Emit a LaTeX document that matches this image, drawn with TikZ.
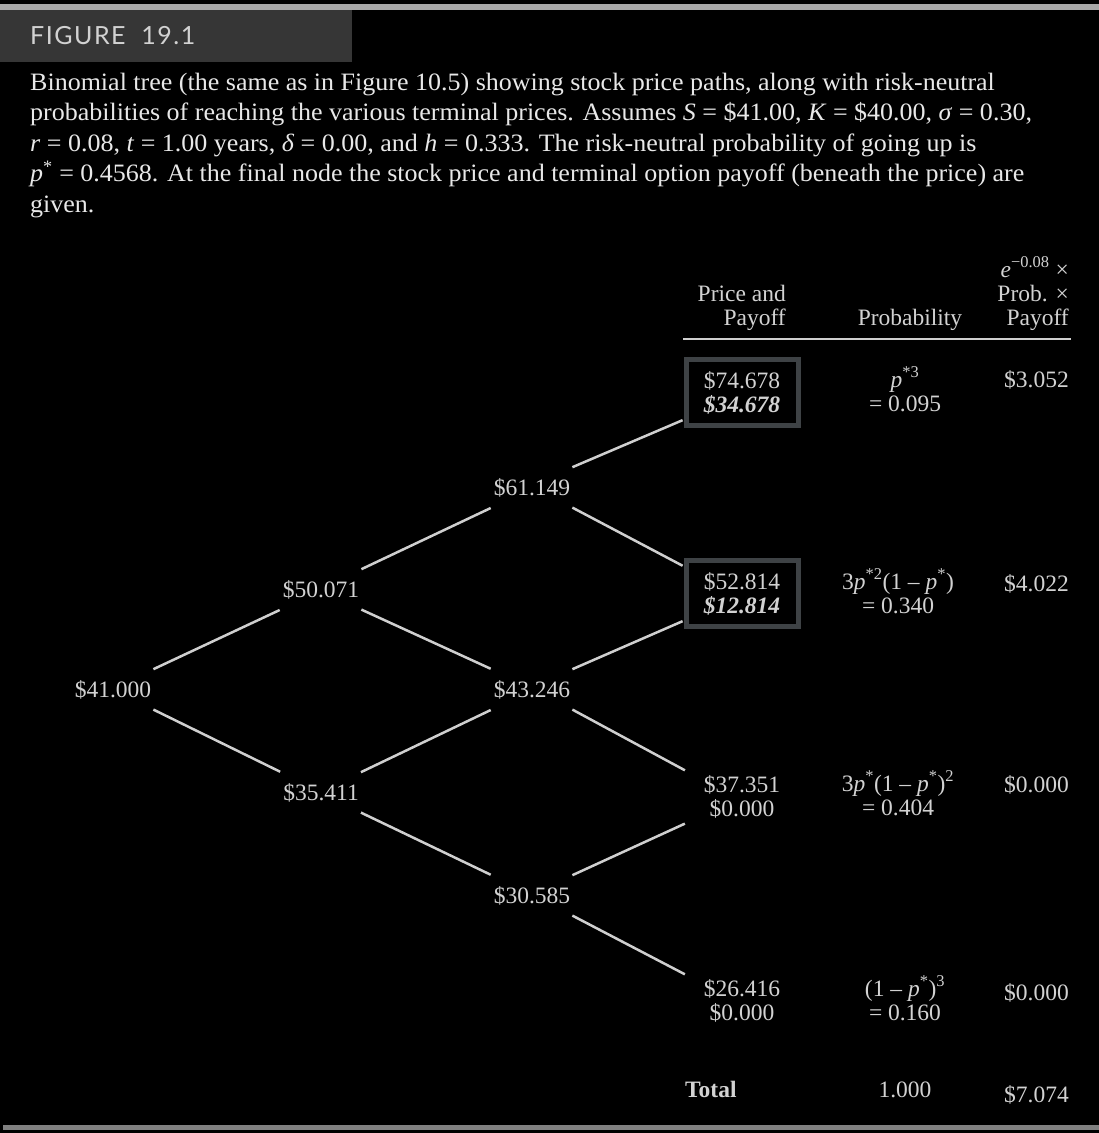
\documentclass[tikz,border=0pt]{standalone}
\usepackage{fontspec}
\setmainfont{Liberation Serif}
\newfontfamily\figfont[LetterSpace=6]{Lato}
\newfontfamily\capfont[FakeStretch=1.04]{Liberation Serif}
\usetikzlibrary{calc}
\definecolor{txtgray}{HTML}{D2D2D2}
\definecolor{capgray}{HTML}{E8E8E8}
\definecolor{edgegray}{HTML}{CFCFCF}
\definecolor{boxgray}{HTML}{3E4245}
\definecolor{bandgray}{HTML}{363636}
\definecolor{topgray}{HTML}{A8A8A8}
\definecolor{botgray}{HTML}{808080}
\def\tabfont{\fontsize{23.5}{24}\selectfont}

\begin{document}
\begin{tikzpicture}[x=1pt, y=-1pt,
	price/.style={text=txtgray, font=\tabfont, inner xsep=2pt, inner ysep=0pt, minimum height=40pt},
	final/.style={text=txtgray, font=\tabfont, align=center, inner sep=0pt, minimum width=112pt, minimum height=66pt},
	boxed/.style={draw=boxgray, line width=5pt},
	cell/.style={text=txtgray, font=\tabfont, inner sep=0pt},
	branch/.style={draw=edgegray, line width=2.5pt, shorten >=1pt}]
			%%%%% START %%%%%
			
			\fill[black] (0, 0) rectangle (1099, 1133);
			\useasboundingbox (0, 0) rectangle (1099, 1133);
			
			\fill[topgray] (0, 4) rectangle (1099, 10);
			\fill[bandgray] (0, 10) rectangle (352, 62);
			\fill[botgray] (3, 1125) rectangle (1099, 1130);
			
			\node[anchor=base west, inner sep=0pt, text=txtgray, font=\figfont\fontsize{25}{25}\selectfont] (title) at (30, 44) {FIGURE\ \ 19.1};
			
			% caption, anchored on its last line
			\node[anchor=base west, align=left, inner sep=0pt, text=capgray, font=\capfont\fontsize{25}{30.5}\selectfont] (caption) at (30, 212)
			{Binomial tree (the same as in Figure 10.5) showing stock price paths, along with risk-neutral\\
			probabilities of reaching the various terminal prices. Assumes \textit{S} = \$41.00, \textit{K} = \$40.00, \textit{σ} = 0.30,\\
			\textit{r} = 0.08, \textit{t} = 1.00 years, \textit{δ} = 0.00, and \textit{h} = 0.333. The risk-neutral probability of going up is\\
			\textit{p}\textsuperscript{*} = 0.4568. At the final node the stock price and terminal option payoff (beneath the price) are\\
			given.};
			
			% column heads
			\node[cell, anchor=base east, align=right] (headprice) at (786, 325) {Price and\\Payoff};
			\node[cell, anchor=base] (headprob) at (910, 325) {Probability};
			\node[cell, anchor=base east, align=right] (headpv) at (1069, 325) {\textit{e}\textsuperscript{−0.08} ×\\Prob. ×\\Payoff};
			\draw[edgegray, line width=2pt] (683, 339) -- (1071, 339);
			
			% the tree
			\node[price, anchor=base] (n0) at (113, 697) {\$41.000};
			\node[price, anchor=base] (u1) at (321, 597) {\$50.071};
			\node[price, anchor=base] (d1) at (321, 800) {\$35.411};
			\node[price, anchor=base] (uu2) at (532, 495) {\$61.149};
			\node[price, anchor=base] (ud2) at (532, 697) {\$43.246};
			\node[price, anchor=base] (dd2) at (532, 903) {\$30.585};
			\node[final, boxed] (uuu3) at (742, 392.5) {\$74.678\\\textbf{\textit{\$34.678}}};
			\node[final, boxed] (uud3) at (742, 593.5) {\$52.814\\\textbf{\textit{\$12.814}}};
			\node[final] (udd3) at (742, 797) {\$37.351\\\$0.000};
			\node[final] (ddd3) at (742, 1001) {\$26.416\\\$0.000};
			
			\draw[branch] (n0.north east) -- (u1.south west);
			\draw[branch] (n0.south east) -- (d1.north west);
			\draw[branch] (u1.north east) -- (uu2.south west);
			\draw[branch] (u1.south east) -- (ud2.north west);
			\draw[branch] (d1.north east) -- (ud2.south west);
			\draw[branch] (d1.south east) -- (dd2.north west);
			\draw[branch] (uu2.north east) -- (uuu3.205);
			\draw[branch] (uu2.south east) -- (uud3.155);
			\draw[branch] (ud2.north east) -- (uud3.205);
			\draw[branch] (ud2.south east) -- (udd3.155);
			\draw[branch] (dd2.north east) -- (udd3.205);
			\draw[branch] (dd2.south east) -- (ddd3.155);
			
			% probabilities, anchored on their last line
			\node[cell, anchor=base, align=center] (prob1) at (905, 411) {\textit{p}\textsuperscript{*3}\\= 0.095};
			\node[cell, anchor=base, align=center] (prob2) at (898, 613) {3\textit{p}\textsuperscript{*2}(1 – \textit{p}\textsuperscript{*})\\= 0.340};
			\node[cell, anchor=base, align=center] (prob3) at (898, 815) {3\textit{p}\textsuperscript{*}(1 – \textit{p}\textsuperscript{*})\textsuperscript{2}\\= 0.404};
			\node[cell, anchor=base, align=center] (prob4) at (905, 1020) {(1 – \textit{p}\textsuperscript{*})\textsuperscript{3}\\= 0.160};
			
			% discounted values
			\node[cell, anchor=base east] (pv1) at (1069, 387) {\$3.052};
			\node[cell, anchor=base east] (pv2) at (1069, 591) {\$4.022};
			\node[cell, anchor=base east] (pv3) at (1069, 792) {\$0.000};
			\node[cell, anchor=base east] (pv4) at (1069, 1000) {\$0.000};
			
			\node[cell, anchor=base west, font=\tabfont\bfseries] (total) at (685, 1097) {Total};
			\node[cell, anchor=base] (probsum) at (905, 1097) {1.000};
			\node[cell, anchor=base east] (pvsum) at (1069, 1102) {\$7.074};
			
			%%%%% END %%%%%
\end{tikzpicture}
\end{document}
